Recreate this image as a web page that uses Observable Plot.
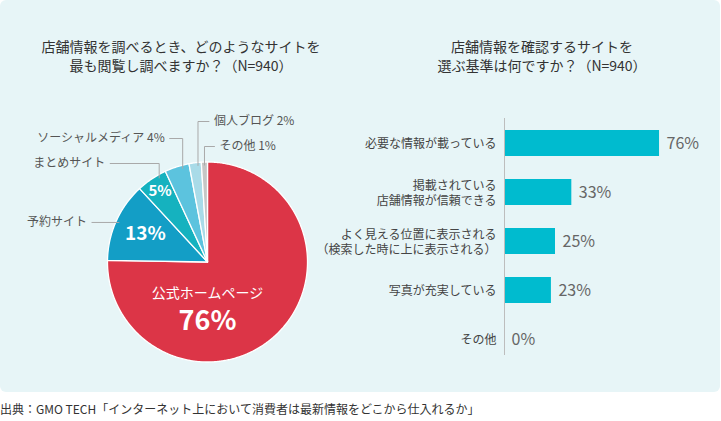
<!DOCTYPE html>
<html>
<head>
<meta charset="utf-8">
<script src="https://cdn.jsdelivr.net/npm/d3@7"></script>
<script src="https://cdn.jsdelivr.net/npm/@observablehq/plot@0.6"></script>
<style>
  html, body { margin: 0; padding: 0; background: #ffffff; }
  body { font-family: "Noto Sans CJK JP", "Noto Sans", sans-serif; }
  #wrap { position: relative; width: 721px; height: 421px; overflow: hidden; }
  #panel { position: absolute; left: 0; top: 0; width: 720px; height: 392px; background: #e7f5f7; border-radius: 6px; }
  .title { position: absolute; top: 37px; font-size: 14px; line-height: 19px; color: #333; text-align: center; }
  #caption { position: absolute; left: 0; top: 401px; font-size: 12px; line-height: 16px; color: #333; white-space: nowrap; }
  #pie, #bars { position: absolute; top: 0; }
  #pie { left: 0; }
  #bars { left: 300px; }
  svg { overflow: visible; }
</style>
</head>
<body>
<div id="wrap">
  <div id="panel"></div>
  <div class="title" id="t1" style="left:0;width:362px;"></div>
  <div class="title" id="t2" style="left:360px;width:364px;"></div>
  <div id="pie"></div>
  <div id="bars"></div>
  <div id="caption"></div>
</div>
<script>
// ---------- data ----------
const pieTitle = ["店舗情報を調べるとき、どのようなサイトを", "最も閲覧し調べますか？（N=940）"];
const pieCategories = ["公式ホームページ", "予約サイト", "まとめサイト", "ソーシャルメディア", "個人ブログ", "その他"];
const pieValues = [76, 13, 5, 4, 2, 1];

const barTitle = ["店舗情報を確認するサイトを", "選ぶ基準は何ですか？（N=940）"];
const barCategories = [
  "必要な情報が載っている",
  "掲載されている\n店舗情報が信頼できる",
  "よく見える位置に表示される\n（検索した時に上に表示される）",
  "写真が充実している",
  "その他"
];
const barValues = [76, 33, 25, 23, 0];

const captionText = "出典：GMO TECH「インターネット上において消費者は最新情報をどこから仕入れるか」";

// ---------- styles / layout ----------
const pieColors = ["#dc3547", "#139ec6", "#15b2bf", "#5cc3de", "#a9dbe8", "#c6c6c6"];
const barColor = "#00bbcf";
const font = "Noto Sans CJK JP";

document.getElementById("t1").innerHTML = pieTitle.join("<br>");
document.getElementById("t2").innerHTML = barTitle.join("<br>");
document.getElementById("caption").textContent = captionText;

// ---------- pie ----------
const cx = 207, cy = 261.5, R = 100;
const pieData = pieCategories.map((name, i) => ({name, value: pieValues[i]}));
const arcs = d3.pie().sort(null).value(d => d.value)(pieData);
const pt = (a, r) => [cx + r * Math.sin(a), cy - r * Math.cos(a)];
const deg = Math.PI / 180;

const slicePts = [];
arcs.forEach(s => {
  const name = s.data.name;
  slicePts.push({name, x: cx, y: cy});
  const n = Math.max(2, Math.ceil((s.endAngle - s.startAngle) / 0.01));
  for (let i = 0; i <= n; i++) {
    const a = s.startAngle + (s.endAngle - s.startAngle) * i / n;
    const [x, y] = pt(a, R);
    slicePts.push({name, x, y});
  }
  slicePts.push({name, x: cx, y: cy});
});
const arcByName = new Map(arcs.map(s => [s.data.name, s]));
const mid = s => (s.startAngle + s.endAngle) / 2;

// outside labels layout: label y (null = same as anchor), leader length, side, angle shift, show value
const outsideLayout = [
  {name: "予約サイト", ly: null, len: 27, side: "left", shift: 0, showValue: false},
  {name: "まとめサイト", ly: 163, len: 49, side: "left", shift: 4, showValue: false},
  {name: "ソーシャルメディア", ly: 138, len: 13, side: "left", shift: 3, showValue: true},
  {name: "個人ブログ", ly: 121, len: 11, side: "right", shift: 1.5, showValue: true},
  {name: "その他", ly: 146, len: 10, side: "right", shift: 0, showValue: true}
];
const leaderPts = [];
const outsideText = [];
outsideLayout.forEach(L => {
  const s = arcByName.get(L.name);
  const a = mid(s) + L.shift * deg;
  const [ax, ay] = pt(a, R - 3);
  const y = L.ly == null ? ay : L.ly;
  const ex = L.side === "left" ? ax - L.len : ax + L.len;
  leaderPts.push({k: L.name, x: ax, y: ay}, {k: L.name, x: ax, y}, {k: L.name, x: ex, y});
  outsideText.push({
    x: L.side === "left" ? ex - 5 : ex + 5, y,
    side: L.side,
    text: L.showValue ? `${L.name} ${s.data.value}%` : L.name
  });
});

// inside labels: radius and angle (null = slice mid angle)
const insideLayout = [
  {name: "予約サイト", r: 68, angle: null, size: 19, what: "value"},
  {name: "まとめサイト", r: 85, angle: null, size: 15, what: "value"},
  {name: "公式ホームページ", r: 32, angle: 180, size: 14, what: "name"},
  {name: "公式ホームページ", r: 59, angle: 180, size: 27, what: "value"}
];
const insideText = insideLayout.map(L => {
  const s = arcByName.get(L.name);
  const a = L.angle == null ? mid(s) : L.angle * deg;
  const [x, y] = pt(a, L.r);
  return {x, y, size: L.size, what: L.what, text: L.what === "name" ? L.name : `${s.data.value}%`};
});

const pieChart = Plot.plot({
  width: 360, height: 392,
  margin: 0,
  style: {background: "transparent", fontFamily: font},
  x: {type: "linear", domain: [0, 360], range: [0, 360], axis: null},
  y: {type: "linear", domain: [0, 392], range: [0, 392], axis: null},
  color: {domain: pieCategories, range: pieColors},
  marks: [
    Plot.line(slicePts, {x: "x", y: "y", z: "name", fill: "name", stroke: "#ffffff", strokeWidth: 1.3, strokeLinejoin: "round"}),
    Plot.line(leaderPts, {x: "x", y: "y", z: "k", stroke: "#a9a9a9", strokeWidth: 1, curve: "linear"}),
    Plot.text(outsideText.filter(d => d.side === "left"), {x: "x", y: "y", text: "text", textAnchor: "end", fontSize: 12, fill: "#555"}),
    Plot.text(outsideText.filter(d => d.side === "right"), {x: "x", y: "y", text: "text", textAnchor: "start", fontSize: 12, fill: "#555"}),
    Plot.text(insideText.filter(d => d.what === "name"), {x: "x", y: "y", text: "text", fontSize: d => d.size, fill: "#ffffff"}),
    Plot.text(insideText.filter(d => d.what === "value"), {x: "x", y: "y", text: "text", fontSize: d => d.size, fill: "#ffffff", fontWeight: "bold"})
  ]
});
document.getElementById("pie").appendChild(pieChart);

// ---------- bars ----------
const barData = barCategories.map((cat, i) => ({cat, value: barValues[i]}));
const barChart = Plot.plot({
  width: 421, height: 392,
  marginTop: 118, marginBottom: 37, marginLeft: 0, marginRight: 0,
  style: {background: "transparent", fontFamily: font},
  x: {domain: [0, 100], range: [204, 408], axis: null},
  y: {domain: barCategories, range: [118.5, 363.5], paddingInner: 0.47, paddingOuter: 0.235, axis: null},
  marks: [
    Plot.barX(barData, {x: "value", y: "cat", fill: barColor}),
    Plot.ruleX([0], {stroke: "#bdbdbd", strokeWidth: 1}),
    Plot.text(barData, {x: 0, y: "cat", text: "cat", textAnchor: "end", dx: -8, fontSize: 12, lineHeight: 1.25, fill: "#444"}),
    Plot.text(barData, {x: "value", y: "cat", text: d => `${d.value}%`, textAnchor: "start", dx: 7, fontSize: 16, fill: "#666"})
  ]
});
document.getElementById("bars").appendChild(barChart);
</script>
</body>
</html>
